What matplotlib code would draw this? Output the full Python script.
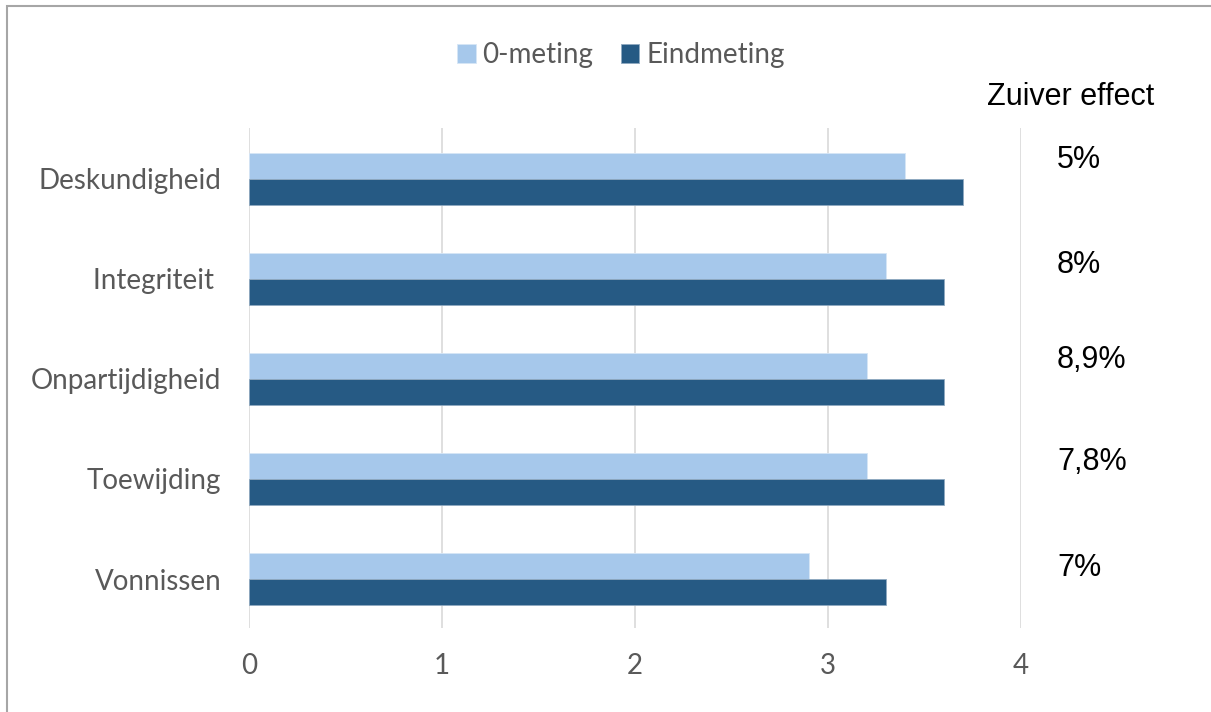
"""Horizontal grouped bars: 0-meting vs Eindmeting with pure effect column."""

import matplotlib.pyplot as plt
import numpy as np
from matplotlib.patches import Rectangle

categories = ['Deskundigheid', 'Integriteit ', 'Onpartijdigheid', 'Toewijding', 'Vonnissen']
nulmeting = [3.4, 3.3, 3.2, 3.2, 2.9]
eindmeting = [3.7, 3.6, 3.6, 3.6, 3.3]
effect = ['5%', '8%', '8,9%', '7,8%', '7%']
series_names = ['0-meting', 'Eindmeting']

#light blue / dark blue
light = '#a6c8eb'
dark = '#265a84'
gray = '#595959'

fig = plt.figure(figsize=(12.11, 7.12), dpi=100)
ax = fig.add_axes([249/1211, 1-628/712, (1021-249)/1211, 500/712])

pos = np.arange(len(categories))
h = 0.26
ax.barh(pos - h/2, nulmeting, height=h, color=light, edgecolor='#d6e6f6', linewidth=0.6,
        label=series_names[0], zorder=3)
ax.barh(pos + h/2, eindmeting, height=h, color=dark, edgecolor='#8fa9c0', linewidth=0.6,
        label=series_names[1], zorder=3)

ax.set_xlim(0, 4)
ax.set_ylim(4.49, -0.51)
ax.set_xticks(range(5))
ax.set_yticks(pos)
ax.set_yticklabels(categories)
ax.tick_params(length=0, labelcolor=gray, labelsize=20)
ax.tick_params(axis='y', pad=20)
ax.tick_params(axis='x', pad=18)
for lbl in ax.get_xticklabels() + ax.get_yticklabels():
    lbl.set_family('Lato')
ax.grid(axis='x', color='#d9d9d9', linewidth=1.2, zorder=0)
for s in ax.spines.values():
    s.set_visible(False)

leg = fig.legend(loc='center', bbox_to_anchor=(621/1211, 1-55/712), ncol=2, frameon=False,
                 prop={'family': 'Lato', 'size': 20}, handlelength=0.65, handleheight=0.65,
                 handletextpad=0.25, columnspacing=1.0)
for t in leg.get_texts():
    t.set_color(gray)

fig.text(987/1211, 1-97/712, 'Zuiver effect', fontsize=22, family='Liberation Sans',
         va='center', ha='left', color='black')
effect_y = [160, 265, 360, 462, 568]
for lab, y in zip(effect, effect_y):
    fig.text(1057/1211, 1-y/712, lab, fontsize=22, family='Liberation Sans',
             va='center', ha='left', color='black')

# outer frame
fig.patches.append(Rectangle((7/1211, -0.1), 1.2, 1-6/712 + 0.1, transform=fig.transFigure,
                             fill=False, edgecolor='#a6a6a6', linewidth=1.5))

fig.savefig('out.png', dpi=100)
